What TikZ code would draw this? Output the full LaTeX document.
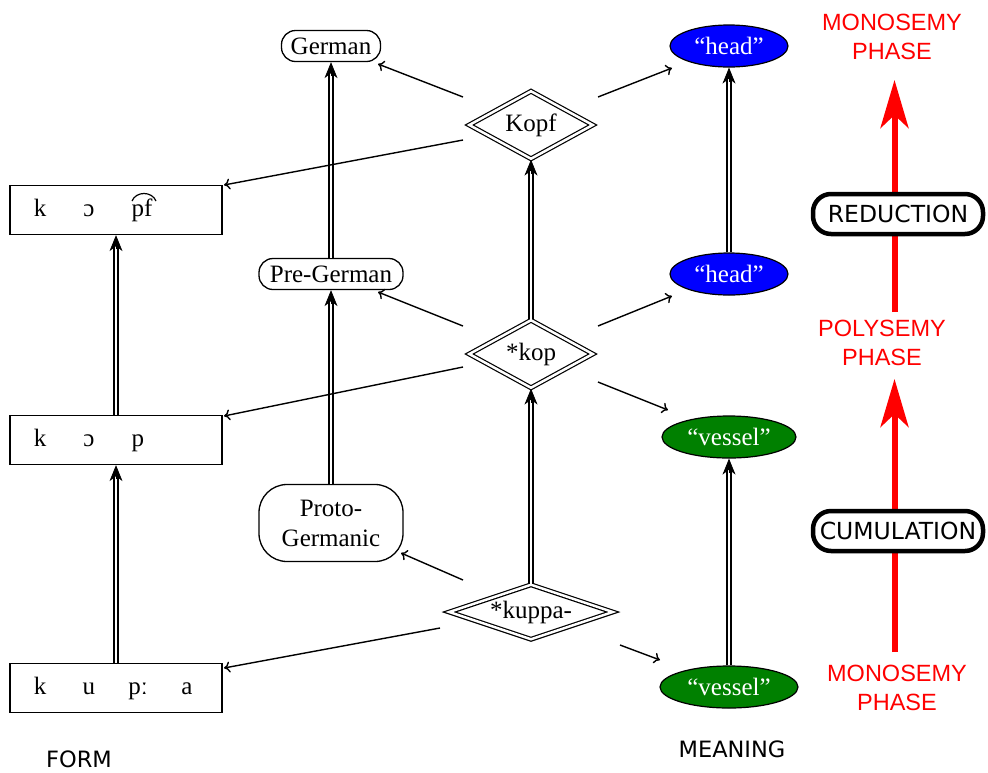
\documentclass[tikz,border=0pt]{standalone}
\usepackage{fontspec}
\setmainfont{Liberation Serif}
\newfontfamily\dvsans{DejaVu Sans}
\newfontfamily\lsans{Liberation Sans}
\usetikzlibrary{shapes.geometric,arrows.meta,calc}
\newcommand\seg[1]{\makebox[49pt]{#1}}

\begin{document}
\begin{tikzpicture}[x=1pt,y=-1pt,
  every node/.style={font=\fontsize{25}{30}\selectfont},
  formbox/.style={draw,line width=1.3pt,minimum width=212pt,minimum height=49pt,inner sep=0pt},
  langbox/.style={draw,line width=1.3pt,rounded corners=14pt,minimum height=31pt,inner sep=0pt},
  stagebox/.style={diamond,draw,line width=1.2pt,double,double distance=2.5pt,inner sep=0pt},
  sense/.style={ellipse,draw,line width=1.2pt,text=white,inner sep=0pt,minimum height=42pt},
  link/.style={line width=1.4pt,-{To[length=6pt,width=11pt]}},
  descent/.style={line width=1.3pt,double,double distance=2.6pt,shorten >=11pt},
  descenttip/.style={line width=0.8pt,-{Stealth[length=16pt,width=13pt,inset=5pt]}},
  phase/.style={text=red,font=\lsans\fontsize{23.5}{29}\selectfont,align=center,inner sep=0pt},
  process/.style={draw,line width=4.5pt,rounded corners=18pt,fill=white,
    font=\dvsans\fontsize{23.5}{28}\selectfont,minimum width=170pt,minimum height=40pt,inner sep=0pt},
  phaseshift/.style={red,line width=6pt,-{Stealth[length=48pt,width=28pt,inset=13pt]}},
  caption/.style={font=\dvsans\fontsize{22.5}{27}\selectfont,inner sep=0pt},
]
\useasboundingbox (0,0) rectangle (988,772);

% form column
\node[formbox] (f1) at (116,210) {\seg{k}\seg{ɔ}\seg{\hspace*{8pt}pf}\seg{}\hspace*{5pt}};
\node[formbox] (f2) at (116,440) {\seg{k}\seg{ɔ}\seg{p}\seg{}\hspace*{5pt}};
\node[formbox] (f3) at (116,688) {\seg{k}\seg{u}\seg{pː}\seg{a}\hspace*{5pt}};
\node[caption] (form) at (79,759) {FORM};
% tie bar over the affricate
\draw[line width=1.2pt] ($(f1)+(16,-9)$) .. controls ($(f1)+(20,-19)$) and ($(f1)+(36,-19)$) .. ($(f1)+(40,-9)$);

% language stages
\node[langbox,minimum width=99pt] (german) at (331,46) {German};
\node[langbox,minimum width=144pt] (pregerman) at (331,274) {Pre-German};
\node[langbox,minimum width=144pt,minimum height=77pt,rounded corners=28pt,align=center] (proto) at (331,523) {Proto-\\Germanic};

% reconstructed words
\node[stagebox,aspect=1.8,minimum width=124pt,minimum height=68pt] (kopf) at (531,125) {Kopf};
\node[stagebox,aspect=1.8,minimum width=124pt,minimum height=68pt] (kop) at (531,354) {*kop};
\node[stagebox,aspect=3,minimum width=164pt,minimum height=55pt] (kuppa) at (531,612) {*kuppa-};

% meanings
\node[sense,fill=blue,minimum width=118pt] (head1) at (729,46) {“head”};
\node[sense,fill=blue,minimum width=118pt] (head2) at (729,274) {“head”};
\node[sense,fill=green!50!black,minimum width=134pt] (v1) at (729,437) {“vessel”};
\node[sense,fill=green!50!black,minimum width=138pt] (v2) at (729,687) {“vessel”};
\node[caption] (meaning) at (732,749) {MEANING};

% descent lines: double shaft plus a solid head
\foreach \lo/\hi in {f3/f2, f2/f1, proto/pregerman, pregerman/german,
                     kuppa/kop, kop/kopf, v2/v1, head2/head1} {
  \draw[descent] (\lo.north) -- (\hi.south);
  \draw[descenttip] ($(\hi.south)+(0,14)$) -- (\hi.south);
}

% links from each word to language, form and meaning
\draw[link] ($(kopf)+(-68,-28)$) -- ($(german)+(47,18)$);
\draw[link] ($(kopf)+(-68,15)$) -- ($(f1)+(108,-25)$);
\draw[link] ($(kopf)+(67,-28)$) -- ($(head1)+(-57,22)$);
\draw[link] ($(kop)+(-68,-28)$) -- ($(pregerman)+(47,18)$);
\draw[link] ($(kop)+(-68,13)$) -- ($(f2)+(108,-24)$);
\draw[link] ($(kop)+(67,-28)$) -- ($(head2)+(-57,22)$);
\draw[link] ($(kop)+(67,28)$) -- ($(v1)+(-61,-27)$);
\draw[link] ($(kuppa)+(-68,-32)$) -- ($(proto)+(70,30)$);
\draw[link] ($(kuppa)+(-91,16)$) -- ($(f3)+(108,-20)$);
\draw[link] ($(kuppa)+(89,33)$) -- ($(v2)+(-69,-27)$);

% semantic phases
\node[phase] (monoT) at (892,37) {MONOSEMY\\PHASE};
\node[phase] (poly) at (882,343) {POLYSEMY\\PHASE};
\node[phase] (monoB) at (897,688) {MONOSEMY\\PHASE};
\coordinate (c0) at (894.5,652);
\coordinate (c1) at (894.5,379);
\coordinate (r0) at (894.5,312);
\coordinate (r1) at (894.5,80);
\draw[phaseshift] (c0) -- (c1);
\draw[phaseshift] (r0) -- (r1);
\node[process] (reduction) at (898,214) {REDUCTION};
\node[process] (cumulation) at (898,531) {CUMULATION};
\end{tikzpicture}
\end{document}
